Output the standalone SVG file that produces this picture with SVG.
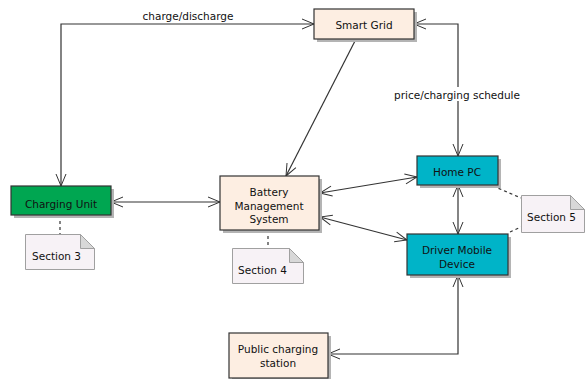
<svg xmlns="http://www.w3.org/2000/svg" width="587" height="379" viewBox="0 0 587 379">
<defs>
<marker id="ah" markerUnits="userSpaceOnUse" markerWidth="14" markerHeight="12" refX="13" refY="6" orient="auto-start-reverse" viewBox="0 0 14 12">
<path d="M1,1 L13,6 L1,11" fill="none" stroke="#333" stroke-width="1"/>
</marker>
</defs>
<style>
text{font-family:"DejaVu Sans","Liberation Sans",sans-serif;font-size:10.5px;fill:#111}
.c{text-anchor:middle}
.box{stroke:#333;stroke-width:1.2}
.sh{fill:#b4b4b4}
.peach{fill:#fdeee2}
.green{fill:#00a651}
.cyan{fill:#00b4c8}
.note{fill:#f7f2f6;stroke:#a0a0a0;stroke-width:1}
.fold{fill:#d8d8d8;stroke:#a0a0a0;stroke-width:1}
.ln{fill:none;stroke:#333;stroke-width:1.2}
.two{marker-start:url(#ah);marker-end:url(#ah)}
.one{marker-end:url(#ah)}
.dash{fill:none;stroke:#333;stroke-width:1.2;stroke-dasharray:3,3}
</style>
<g id="connectors">
<polyline class="ln two" points="61,186 61,24 314,24"/>
<polyline class="ln two" points="414,24 458,24 458,156"/>
<line class="ln one" x1="356" y1="39" x2="286" y2="176"/>
<line class="ln two" x1="111" y1="202" x2="220" y2="202"/>
<line class="ln two" x1="320" y1="193" x2="417" y2="177"/>
<line class="ln two" x1="320" y1="217" x2="407" y2="240"/>
<line class="ln two" x1="458" y1="185" x2="458" y2="234"/>
<polyline class="ln two" points="458,275 458,354 328,354"/>
<line class="dash" x1="60" y1="215" x2="60" y2="234"/>
<line class="dash" x1="268" y1="230" x2="268" y2="248"/>
<line class="dash" x1="493" y1="186" x2="521" y2="198"/>
<line class="dash" x1="510" y1="232" x2="521" y2="227"/>
<text class="c" x="188" y="20">charge/discharge</text>
<rect x="393" y="87" width="128" height="14" fill="#fff"/>
<text class="c" x="457" y="99">price/charging schedule</text>
</g>
<g id="smart-grid">
<rect class="sh" x="317" y="12" width="100" height="30"/>
<rect class="box peach" x="314" y="9" width="100" height="30"/>
<text class="c" x="364" y="29">Smart Grid</text>
</g>
<g id="charging-unit">
<rect class="sh" x="14" y="189" width="100" height="29"/>
<rect class="box green" x="11" y="186" width="100" height="29"/>
<text class="c" x="61" y="208">Charging Unit</text>
</g>
<g id="bms">
<rect class="sh" x="223" y="179" width="99" height="54"/>
<rect class="box peach" x="220" y="176" width="99" height="54"/>
<text class="c" x="269" y="196">Battery</text>
<text class="c" x="269" y="210">Management</text>
<text class="c" x="269" y="223">System</text>
</g>
<g id="home-pc">
<rect class="sh" x="420" y="159" width="81" height="29"/>
<rect class="box cyan" x="417" y="156" width="81" height="29"/>
<text class="c" x="457" y="176">Home PC</text>
</g>
<g id="driver-mobile">
<rect class="sh" x="410" y="237" width="101" height="41"/>
<rect class="box cyan" x="407" y="234" width="101" height="41"/>
<text class="c" x="457" y="254">Driver Mobile</text>
<text class="c" x="457" y="268">Device</text>
</g>
<g id="public-station">
<rect class="sh" x="232" y="336" width="99" height="45"/>
<rect class="box peach" x="229" y="333" width="99" height="45"/>
<text class="c" x="278" y="353">Public charging</text>
<text class="c" x="278" y="367">station</text>
</g>
<g id="section-3">
<path class="note" d="M25.5,234.5 H80.5 L94.5,248.5 V269.5 H25.5 Z"/>
<path class="fold" d="M80.5,234.5 V248.5 H94.5 Z"/>
<text x="32" y="260">Section 3</text>
</g>
<g id="section-4">
<path class="note" d="M232.5,248.5 H289.5 L303.5,262.5 V283.5 H232.5 Z"/>
<path class="fold" d="M289.5,248.5 V262.5 H303.5 Z"/>
<text x="238" y="274">Section 4</text>
</g>
<g id="section-5">
<path class="note" d="M521.5,195.5 H570.5 L584.5,209.5 V232.5 H521.5 Z"/>
<path class="fold" d="M570.5,195.5 V209.5 H584.5 Z"/>
<text x="527" y="221">Section 5</text>
</g>
</svg>
